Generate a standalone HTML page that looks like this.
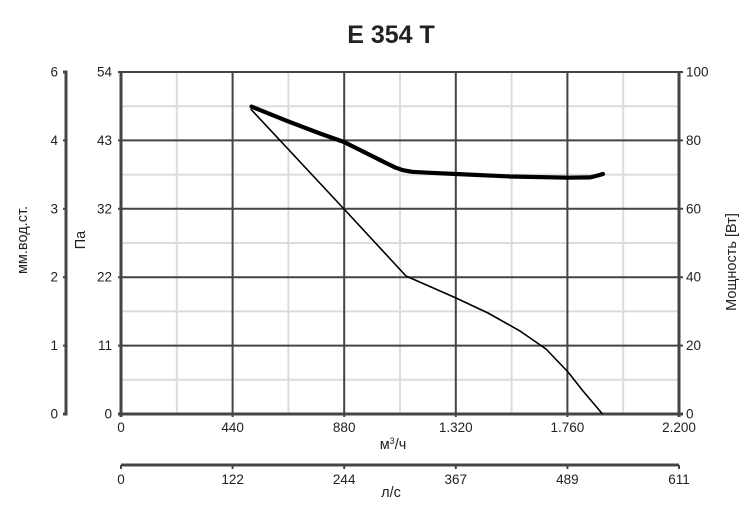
<!DOCTYPE html>
<html><head><meta charset="utf-8"><style>
html,body{margin:0;padding:0;background:#fff;}
svg{display:block;}
text{font-family:"Liberation Sans","DejaVu Sans",sans-serif;fill:#222;}
</style></head><body>
<svg width="750" height="512" viewBox="0 0 750 512" xmlns="http://www.w3.org/2000/svg">
<rect width="750" height="512" fill="#fff"/>
<text x="391" y="43" font-size="25" font-weight="bold" text-anchor="middle" fill="#111">E 354 T</text>
<!-- minor grid -->
<g stroke="#dcdcdc" stroke-width="2">
<line x1="176.8" y1="72" x2="176.8" y2="414"/>
<line x1="288.4" y1="72" x2="288.4" y2="414"/>
<line x1="400" y1="72" x2="400" y2="414"/>
<line x1="511.6" y1="72" x2="511.6" y2="414"/>
<line x1="623.2" y1="72" x2="623.2" y2="414"/>
<line x1="121" y1="106.2" x2="679" y2="106.2"/>
<line x1="121" y1="174.6" x2="679" y2="174.6"/>
<line x1="121" y1="243" x2="679" y2="243"/>
<line x1="121" y1="311.4" x2="679" y2="311.4"/>
<line x1="121" y1="379.8" x2="679" y2="379.8"/>
</g>
<!-- major grid -->
<g stroke="#444" stroke-width="2">
<line x1="232.6" y1="72" x2="232.6" y2="417"/>
<line x1="344.2" y1="72" x2="344.2" y2="417"/>
<line x1="455.8" y1="72" x2="455.8" y2="417"/>
<line x1="567.4" y1="72" x2="567.4" y2="417"/>
<line x1="118" y1="72" x2="683" y2="72"/>
<line x1="118" y1="140.4" x2="683" y2="140.4"/>
<line x1="118" y1="208.8" x2="683" y2="208.8"/>
<line x1="118" y1="277.2" x2="683" y2="277.2"/>
<line x1="118" y1="345.6" x2="683" y2="345.6"/>
</g>
<g stroke="#444" stroke-width="3" fill="none">
<line x1="121" y1="71" x2="121" y2="417"/>
<line x1="679" y1="71" x2="679" y2="417"/>
<line x1="118" y1="414" x2="683" y2="414"/>
<polyline points="63,72 66,72 66,414 63,414"/>
<line x1="121" y1="465" x2="679" y2="465"/>
</g>
<g stroke="#444" stroke-width="2">
<line x1="63" y1="140.4" x2="66" y2="140.4"/>
<line x1="63" y1="208.8" x2="66" y2="208.8"/>
<line x1="63" y1="277.2" x2="66" y2="277.2"/>
<line x1="63" y1="345.6" x2="66" y2="345.6"/>
<line x1="121" y1="465" x2="121" y2="469"/>
<line x1="232.6" y1="465" x2="232.6" y2="469"/>
<line x1="344.2" y1="465" x2="344.2" y2="469"/>
<line x1="455.8" y1="465" x2="455.8" y2="469"/>
<line x1="567.4" y1="465" x2="567.4" y2="469"/>
<line x1="679" y1="465" x2="679" y2="469"/>
</g>
<!-- curves -->
<polyline fill="none" stroke="#000" stroke-width="1.6" stroke-linejoin="round" points="250.7,109 344,209 406,276 456,298 488,313 520,331 546,349 568,372 583,391 602.5,414"/>
<polyline fill="none" stroke="#000" stroke-width="4.2" stroke-linejoin="round" stroke-linecap="round" points="251.5,106.6 286.7,120.8 320,133.5 344,142 370,155 387,163.5 396,167.8 403,170.2 412,171.8 430,172.8 456,174 510,176.5 568,177.7 590,177.4 596,176 603,174"/>
<!-- labels -->
<g font-size="13.5" text-anchor="end">
<text x="112" y="76.5">54</text>
<text x="112" y="144.9">43</text>
<text x="112" y="213.3">32</text>
<text x="112" y="281.7">22</text>
<text x="112" y="350.1">11</text>
<text x="112" y="418.5">0</text>
<text x="58" y="76.5">6</text>
<text x="58" y="144.9">4</text>
<text x="58" y="213.3">3</text>
<text x="58" y="281.7">2</text>
<text x="58" y="350.1">1</text>
<text x="58" y="418.5">0</text>
</g>
<g font-size="13.5" text-anchor="start">
<text x="686" y="76.5">100</text>
<text x="686" y="144.9">80</text>
<text x="686" y="213.3">60</text>
<text x="686" y="281.7">40</text>
<text x="686" y="350.1">20</text>
<text x="686" y="418.5">0</text>
</g>
<g font-size="13.5" text-anchor="middle">
<text x="121" y="432">0</text>
<text x="232.6" y="432">440</text>
<text x="344.2" y="432">880</text>
<text x="455.8" y="432">1.320</text>
<text x="567.4" y="432">1.760</text>
<text x="679" y="432">2.200</text>
<text x="121" y="484">0</text>
<text x="232.6" y="484">122</text>
<text x="344.2" y="484">244</text>
<text x="455.8" y="484">367</text>
<text x="567.4" y="484">489</text>
<text x="679" y="484">611</text>
</g>
<g font-size="14.5" text-anchor="middle">
<text x="393" y="449">м<tspan font-size="9" dy="-5">3</tspan><tspan dy="5">/ч</tspan></text>
<text x="391" y="497">л/с</text>
<text transform="translate(27,240) rotate(-90)">мм.вод.ст.</text>
<text transform="translate(85,240) rotate(-90)">Па</text>
<text transform="translate(736,262) rotate(-90)">Мощность [Вт]</text>
</g>
</svg>
</body></html>
